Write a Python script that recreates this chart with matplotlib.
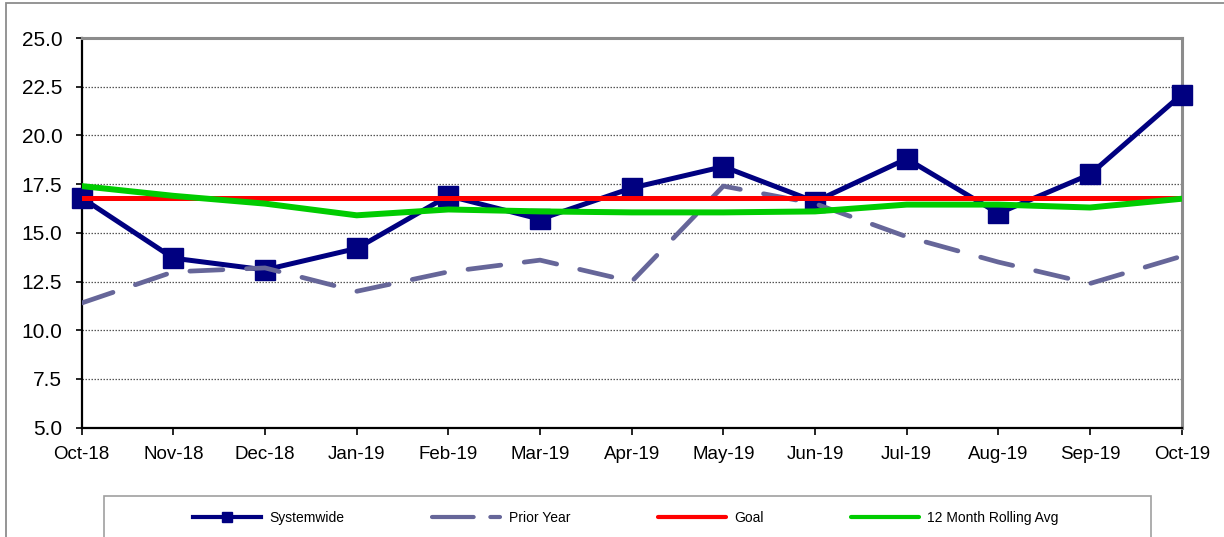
import matplotlib
matplotlib.use("Agg")
import matplotlib.pyplot as plt
from matplotlib.lines import Line2D
from matplotlib.patches import Rectangle

months = ["Oct-18", "Nov-18", "Dec-18", "Jan-19", "Feb-19", "Mar-19", "Apr-19",
          "May-19", "Jun-19", "Jul-19", "Aug-19", "Sep-19", "Oct-19"]
systemwide = [16.8, 13.7, 13.1, 14.2, 16.9, 15.7, 17.3, 18.4, 16.6, 18.8, 16.0, 18.0, 22.1]
prior_year = [11.4, 13.0, 13.2, 12.0, 13.0, 13.6, 12.5, 17.4, 16.5, 14.8, 13.5, 12.4, 13.8]
goal = [16.8] * 13
rolling_avg = [17.4, 16.9, 16.5, 15.9, 16.2, 16.1, 16.05, 16.05, 16.1, 16.45, 16.45, 16.3, 16.75]
y_ticks = [5.0, 7.5, 10.0, 12.5, 15.0, 17.5, 20.0, 22.5, 25.0]

plt.rcParams["font.family"] = ["Liberation Sans", "DejaVu Sans"]

fig = plt.figure(figsize=(12.24, 5.37), dpi=100)
W, H = 1224, 537
ax = fig.add_axes([81.7 / W, 1 - 427.7 / H, 1100 / W, 389.7 / H])

x = list(range(len(months)))

ax.plot(x, systemwide, color="#000080", lw=3.6, marker="s", markersize=14.5,
        markeredgecolor="#000080", zorder=3, clip_on=False, label="Systemwide")
pl, = ax.plot(x, prior_year, color="#666699", lw=3.4, zorder=4, label="Prior Year",
              dash_capstyle="round")
pl.set_dashes((7.0, 5.0))
ax.plot(x, goal, color="#FF0000", lw=3.6, zorder=5, label="Goal")
ax.plot(x, rolling_avg, color="#00CC00", lw=4.3, zorder=6, label="12 Month Rolling Avg")

ax.set_xlim(0, len(months) - 1)
ax.set_ylim(5, 25)
ax.set_xticks(x)
ax.set_xticklabels(months)
ax.set_yticks(y_ticks)
ax.set_yticklabels([f"{v:.1f}" for v in y_ticks])
ax.tick_params(axis="x", labelsize=13.5, length=5, width=1.2, pad=8, colors="black")
ax.tick_params(axis="y", labelsize=15, length=4, width=1.2, pad=10, colors="black")

for v in y_ticks[1:-1]:
    ax.axhline(v, color="#555555", lw=0.9, ls=(0, (1.2, 1.2)), zorder=1)

ax.spines["left"].set_color("black")
ax.spines["left"].set_linewidth(1.6)
ax.spines["bottom"].set_color("black")
ax.spines["bottom"].set_linewidth(1.6)
ax.spines["top"].set_color("#8c8c8c")
ax.spines["top"].set_linewidth(2.2)
ax.spines["right"].set_color("#8c8c8c")
ax.spines["right"].set_linewidth(2.2)

# outer chart frame
fig.patches.append(Rectangle((5.5 / W, -0.1), 1.2, 1 - 2.5 / H + 0.1,
                             transform=fig.transFigure, fill=False,
                             edgecolor="#8c8c8c", lw=1.3, zorder=0))
# legend frame
fig.patches.append(Rectangle((103.5 / W, -0.1), (1151 - 103.5) / W, 1 - 496 / H + 0.1,
                             transform=fig.transFigure, fill=False,
                             edgecolor="#a0a0a0", lw=1.2, zorder=0))

handles = [
    Line2D([], [], color="#000080", lw=3.0, marker="s", markersize=6.5),
    Line2D([], [], color="#666699", lw=3.0, dashes=(10, 4), dash_capstyle="round"),
    Line2D([], [], color="#FF0000", lw=3.0, solid_capstyle="round"),
    Line2D([], [], color="#00CC00", lw=3.0, solid_capstyle="round"),
]
labels = ["Systemwide", "Prior Year", "Goal", "12 Month Rolling Avg"]
fig.legend(handles, labels, loc="center", bbox_to_anchor=(626 / W, 1 - 518 / H),
           ncol=4, frameon=False, fontsize=10, handlelength=4.9,
           handletextpad=0.6, columnspacing=6.3)

fig.savefig("out.png", dpi=100)
